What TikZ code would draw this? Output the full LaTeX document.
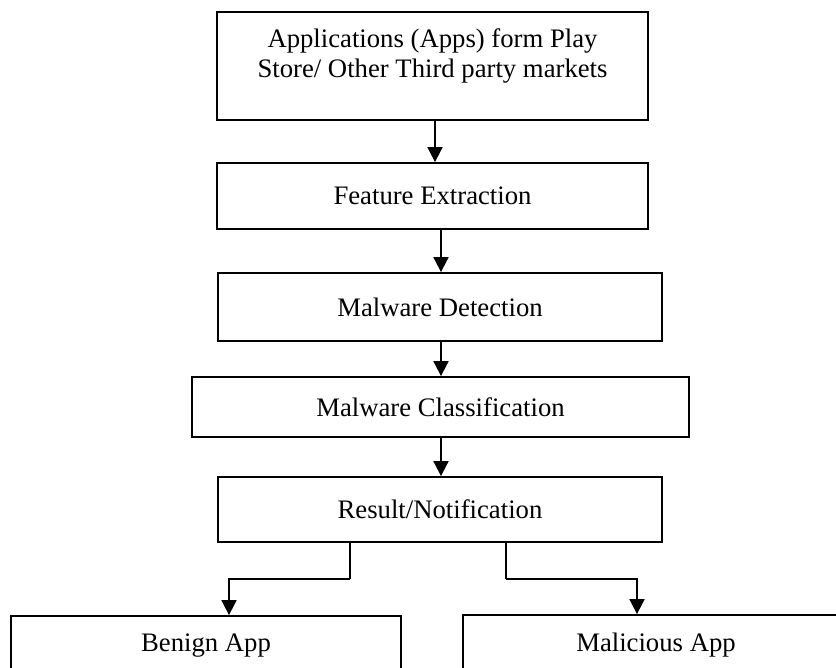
\documentclass[tikz,border=0pt]{standalone}
\usepackage{fontspec}
\setmainfont{Liberation Serif}
\usetikzlibrary{arrows.meta}
\begin{document}
\begin{tikzpicture}[x=1pt,y=-1pt,
  box/.style={draw, line width=1.8pt, rectangle, inner sep=0pt, align=center,
    font=\fontsize{26.7}{29.5}\selectfont},
  lbl/.style={inner sep=0pt, align=center, font=\fontsize{26.7}{29.5}\selectfont},
  arr/.style={line width=1.8pt, -{Triangle[width=15pt,length=15pt]}},
  conn/.style={line width=1.8pt}]
\useasboundingbox (0,0) rectangle (836,668);
\clip (0,0) rectangle (836,668);
\fill[white] (0,0) rectangle (836,668);
\node[box, minimum width=431, minimum height=108] (top) at (432.5,66) {};
\node[lbl] (toptext) at (432.5,56) {Applications (Apps) form Play\\Store/ Other Third party markets};
\node[box, minimum width=431, minimum height=66] (feat) at (432.5,196) {Feature Extraction};
\node[box, minimum width=444, minimum height=68] (det) at (440,307) {Malware Detection};
\node[box, minimum width=497, minimum height=60] (cls) at (440.5,407) {Malware Classification};
\node[box, minimum width=444, minimum height=65] (res) at (440,509.5) {Result/Notification};
\node[box, minimum width=390, minimum height=60] (ben) at (206,646) {Benign App};
\node[box, minimum width=386, minimum height=60] (mal) at (656,645) {Malicious App};
\coordinate (lb) at (350,579);
\coordinate (rb) at (506,579);
\draw[arr] ([xshift=2.5pt]top.south) -- ([xshift=2.5pt]feat.north);
\draw[arr] ([xshift=8.5pt]feat.south) -- ([xshift=1pt]det.north);
\draw[arr] ([xshift=1pt]det.south) -- ([xshift=0.5pt]cls.north);
\draw[arr] ([xshift=0.5pt]cls.south) -- ([xshift=1pt]res.north);
\draw[conn] (res.south -| lb) -- (lb);
\draw[arr] (lb) -| ([xshift=23pt]ben.north);
\draw[conn] (res.south -| rb) -- (rb);
\draw[arr] (rb) -| ([xshift=-19pt]mal.north);
\end{tikzpicture}
\end{document}
